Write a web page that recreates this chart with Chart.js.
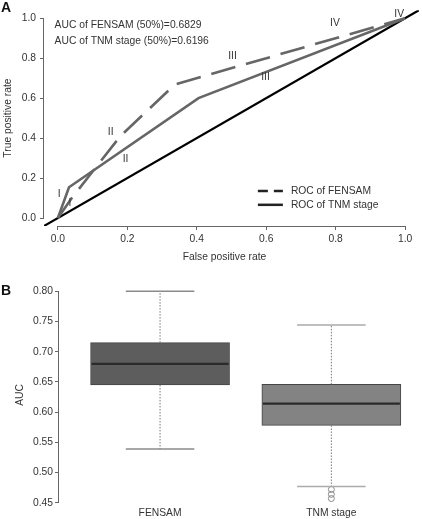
<!DOCTYPE html>
<html><head><meta charset="utf-8">
<script src="https://cdn.jsdelivr.net/npm/chart.js@4.4.1/dist/chart.umd.min.js"></script>
<style>
html,body{margin:0;padding:0;background:#fff;}
#wrap{position:relative;width:422px;height:519px;overflow:hidden;}
canvas{position:absolute;left:0;}
#cA{top:0;} #cB{top:270px;}
</style></head><body>
<div id="wrap"><canvas id="cA" width="422" height="270"></canvas><canvas id="cB" width="422" height="249"></canvas></div>
<script>
// ---------- Panel A data (ROC curves) ----------
const fprFENSAM = [0, 0.04, 0.18, 0.337, 1];
const tprFENSAM = [0, 0.10, 0.41, 0.668, 1];
const fprTNM = [0, 0.032, 0.405, 1];
const tprTNM = [0, 0.154, 0.60, 1];
const diagonal = [-0.04, 1.04];
const rocTicks = [0, 0.2, 0.4, 0.6, 0.8, 1.0];
const stageNames = ['I', 'II', 'III', 'IV'];
const aucFENSAM = 0.6829;
const aucTNM = 0.6196;
const legendNames = ['ROC of FENSAM', 'ROC of TNM stage'];

// ---------- Panel B data (AUC box plots) ----------
const groups = ['FENSAM', 'TNM stage'];
const whiskerLow = [0.539, 0.477];
const q1 = [0.645, 0.578];
const median = [0.680, 0.614];
const q3 = [0.715, 0.646];
const whiskerHigh = [0.800, 0.744];
const outliers = [[], [0.472, 0.464, 0.457]];
const aucTicks = [0.45, 0.50, 0.55, 0.60, 0.65, 0.70, 0.75, 0.80];

// ---------- styles ----------
const FAM = '"Liberation Sans", Arial, Helvetica, sans-serif';
const TXT = '#333';
const AX = '#666';
const FS = 10.3;
Chart.defaults.font.family = FAM;
Chart.defaults.font.size = FS;
Chart.defaults.color = TXT;

// label anchor positions (data coordinates) for stage annotations
const fensamLabelAt = [[0.035, 0.072], [0.152, 0.431], [0.503, 0.808], [0.798, 0.976]];
const tnmLabelAt = [[0.004, 0.12], [0.195, 0.295], [0.598, 0.703], [0.983, 1.02]];

const xy = (xs, ys) => xs.map((v, i) => ({x: v, y: ys[i]}));

function axisLine(ctx, chart, scale, vals) {
  const ca = chart.chartArea;
  ctx.save();
  ctx.strokeStyle = AX; ctx.lineWidth = 1;
  ctx.beginPath();
  if (scale.isHorizontal()) {
    const yy = ca.bottom + 0.5;
    ctx.moveTo(scale.getPixelForValue(vals[0]), yy);
    ctx.lineTo(scale.getPixelForValue(vals[vals.length - 1]), yy);
  } else {
    const xx = ca.left - 0.5;
    ctx.moveTo(xx, scale.getPixelForValue(vals[0]));
    ctx.lineTo(xx, scale.getPixelForValue(vals[vals.length - 1]));
  }
  ctx.stroke();
  ctx.restore();
}

const decorA = {
  id: 'decorA',
  afterDraw(chart) {
    const {ctx, scales: {x, y}} = chart;
    axisLine(ctx, chart, x, rocTicks);
    axisLine(ctx, chart, y, rocTicks);
    ctx.save();
    ctx.fillStyle = TXT;
    ctx.font = FS + 'px ' + FAM;
    ctx.textAlign = 'center'; ctx.textBaseline = 'middle';
    stageNames.forEach((s, i) => {
      ctx.fillText(s, x.getPixelForValue(fensamLabelAt[i][0]), y.getPixelForValue(fensamLabelAt[i][1]));
      ctx.fillText(s, x.getPixelForValue(tnmLabelAt[i][0]), y.getPixelForValue(tnmLabelAt[i][1]));
    });
    // x-axis title (sits slightly left of the axis centre in the original)
    ctx.fillText('False positive rate', x.getPixelForValue(0.48), chart.height - 13);
    ctx.textAlign = 'left';
    const tx = x.getPixelForValue(-0.0095);
    ctx.fillText('AUC of FENSAM (50%)=' + aucFENSAM.toFixed(4), tx, y.getPixelForValue(0.965));
    ctx.fillText('AUC of TNM stage (50%)=' + aucTNM.toFixed(4), tx, y.getPixelForValue(0.886));
    // legend
    const lx0 = x.getPixelForValue(0.576), lx1 = x.getPixelForValue(0.648), lt = x.getPixelForValue(0.671);
    const ly = [y.getPixelForValue(0.135), y.getPixelForValue(0.066)];
    ctx.strokeStyle = '#222'; ctx.lineWidth = 2.5;
    ctx.setLineDash([10, 6]);
    ctx.beginPath(); ctx.moveTo(lx0, ly[0]); ctx.lineTo(lx1, ly[0]); ctx.stroke();
    ctx.setLineDash([]);
    ctx.beginPath(); ctx.moveTo(lx0, ly[1]); ctx.lineTo(lx1, ly[1]); ctx.stroke();
    ctx.fillText(legendNames[0], lt, ly[0]);
    ctx.fillText(legendNames[1], lt, ly[1]);
    // panel letter
    ctx.font = 'bold 14px ' + FAM;
    ctx.fillStyle = '#111';
    ctx.fillText('A', 1, 8.5);
    ctx.restore();
  }
};

new Chart(document.getElementById('cA'), {
  type: 'scatter',
  data: {
    datasets: [
      {data: xy(fprFENSAM, tprFENSAM), showLine: true, borderColor: '#666', borderWidth: 2.6,
       borderDash: [25, 11], pointRadius: 0, tension: 0, borderCapStyle: 'butt'},
      {data: xy(fprTNM, tprTNM), showLine: true, borderColor: '#666', borderWidth: 2.6,
       pointRadius: 0, tension: 0},
      {data: xy(diagonal, diagonal), showLine: true, borderColor: '#000', borderWidth: 2.2,
       pointRadius: 0, tension: 0}
    ]
  },
  options: {
    responsive: false, animation: false, events: [],
    layout: {padding: {top: 2, right: 3, left: 0, bottom: 0}},
    plugins: {legend: {display: false}, tooltip: {enabled: false}},
    scales: {
      x: {
        type: 'linear', min: -0.04, max: 1.04,
        afterBuildTicks: s => { s.ticks = rocTicks.map(v => ({value: v})); },
        afterFit: s => { s.height = 44; },
        ticks: {callback: v => Number(v).toFixed(1), padding: 3, maxRotation: 0, autoSkip: false},
        grid: {display: true, drawOnChartArea: false, drawTicks: true, tickLength: 4, color: AX},
        border: {display: false},
        title: {display: false}
      },
      y: {
        type: 'linear', min: -0.04, max: 1.04,
        afterBuildTicks: s => { s.ticks = rocTicks.map(v => ({value: v})); },
        afterFit: s => { s.width = 44; },
        ticks: {callback: v => Number(v).toFixed(1), padding: 4, autoSkip: false},
        grid: {display: true, drawOnChartArea: false, drawTicks: true, tickLength: 4, color: AX},
        border: {display: false},
        title: {display: true, text: 'True positive rate', padding: {top: 1.5, bottom: 0}}
      }
    }
  },
  plugins: [decorA]
});

// ---------- Panel B ----------
const boxFill = ['#5d5d5d', '#838383'];
const capColor = ['#8a8a8a', '#ababab'];
const ds = [];
groups.forEach((g, i) => {
  const c = i + 1;
  ds.push({type: 'line', data: [{x: c - 0.4, y: median[i]}, {x: c + 0.4, y: median[i]}],
    borderColor: '#2a2a2a', borderWidth: 2.2, pointRadius: 0, tension: 0});
});
groups.forEach((g, i) => {
  const c = i + 1;
  ds.push({type: 'line', data: [{x: c - 0.2, y: whiskerHigh[i]}, {x: c + 0.2, y: whiskerHigh[i]}, {x: c, y: null},
    {x: c - 0.2, y: whiskerLow[i]}, {x: c + 0.2, y: whiskerLow[i]}],
    borderColor: capColor[i], borderWidth: 1.5, pointRadius: 0, spanGaps: false, tension: 0});
  ds.push({type: 'line', data: [{x: c, y: q3[i]}, {x: c, y: whiskerHigh[i]}, {x: c, y: null},
    {x: c, y: q1[i]}, {x: c, y: whiskerLow[i]}],
    borderColor: '#777', borderWidth: 1, borderDash: [1.5, 1.5], pointRadius: 0, spanGaps: false, tension: 0});
});
ds.push({type: 'scatter',
  data: outliers.flatMap((arr, i) => arr.map(v => ({x: i + 1, y: v}))),
  pointRadius: 3, pointStyle: 'circle', borderColor: '#8a8a8a', backgroundColor: 'rgba(0,0,0,0)', borderWidth: 1});
ds.push({type: 'bar',
  data: groups.map((g, i) => ({x: i + 1, y: [q1[i], q3[i]]})),
  backgroundColor: boxFill, borderColor: '#454545', borderWidth: 1, borderSkipped: false, barThickness: 139});

const decorB = {
  id: 'decorB',
  afterDraw(chart) {
    const {ctx, scales: {y}} = chart;
    axisLine(ctx, chart, y, aucTicks);
    ctx.save();
    ctx.font = 'bold 14px ' + FAM;
    ctx.fillStyle = '#111';
    ctx.textBaseline = 'middle';
    ctx.fillText('B', 1, 21);
    ctx.restore();
  }
};

new Chart(document.getElementById('cB'), {
  type: 'bar',
  data: {datasets: ds},
  options: {
    responsive: false, animation: false, events: [],
    layout: {padding: {top: 13, right: 0, left: 0, bottom: 0}},
    plugins: {legend: {display: false}, tooltip: {enabled: false}},
    scales: {
      x: {
        type: 'linear', min: 0.41, max: 2.5, offset: false,
        afterBuildTicks: s => { s.ticks = groups.map((g, i) => ({value: i + 1})); },
        afterFit: s => { s.height = 12; },
        ticks: {callback: v => groups[Math.round(v) - 1], padding: 0, maxRotation: 0, autoSkip: false},
        grid: {display: false, drawTicks: false},
        border: {display: false}
      },
      y: {
        type: 'linear', min: 0.443, max: 0.8137,
        afterBuildTicks: s => { s.ticks = aucTicks.map(v => ({value: v})); },
        afterFit: s => { s.width = 59; },
        ticks: {callback: v => Number(v).toFixed(2), padding: 2, autoSkip: false},
        grid: {display: true, drawOnChartArea: false, drawTicks: true, tickLength: 4, color: AX},
        border: {display: false},
        title: {display: true, text: 'AUC', padding: {top: 14, bottom: 0}}
      }
    }
  },
  plugins: [decorB]
});
</script>
</body></html>
